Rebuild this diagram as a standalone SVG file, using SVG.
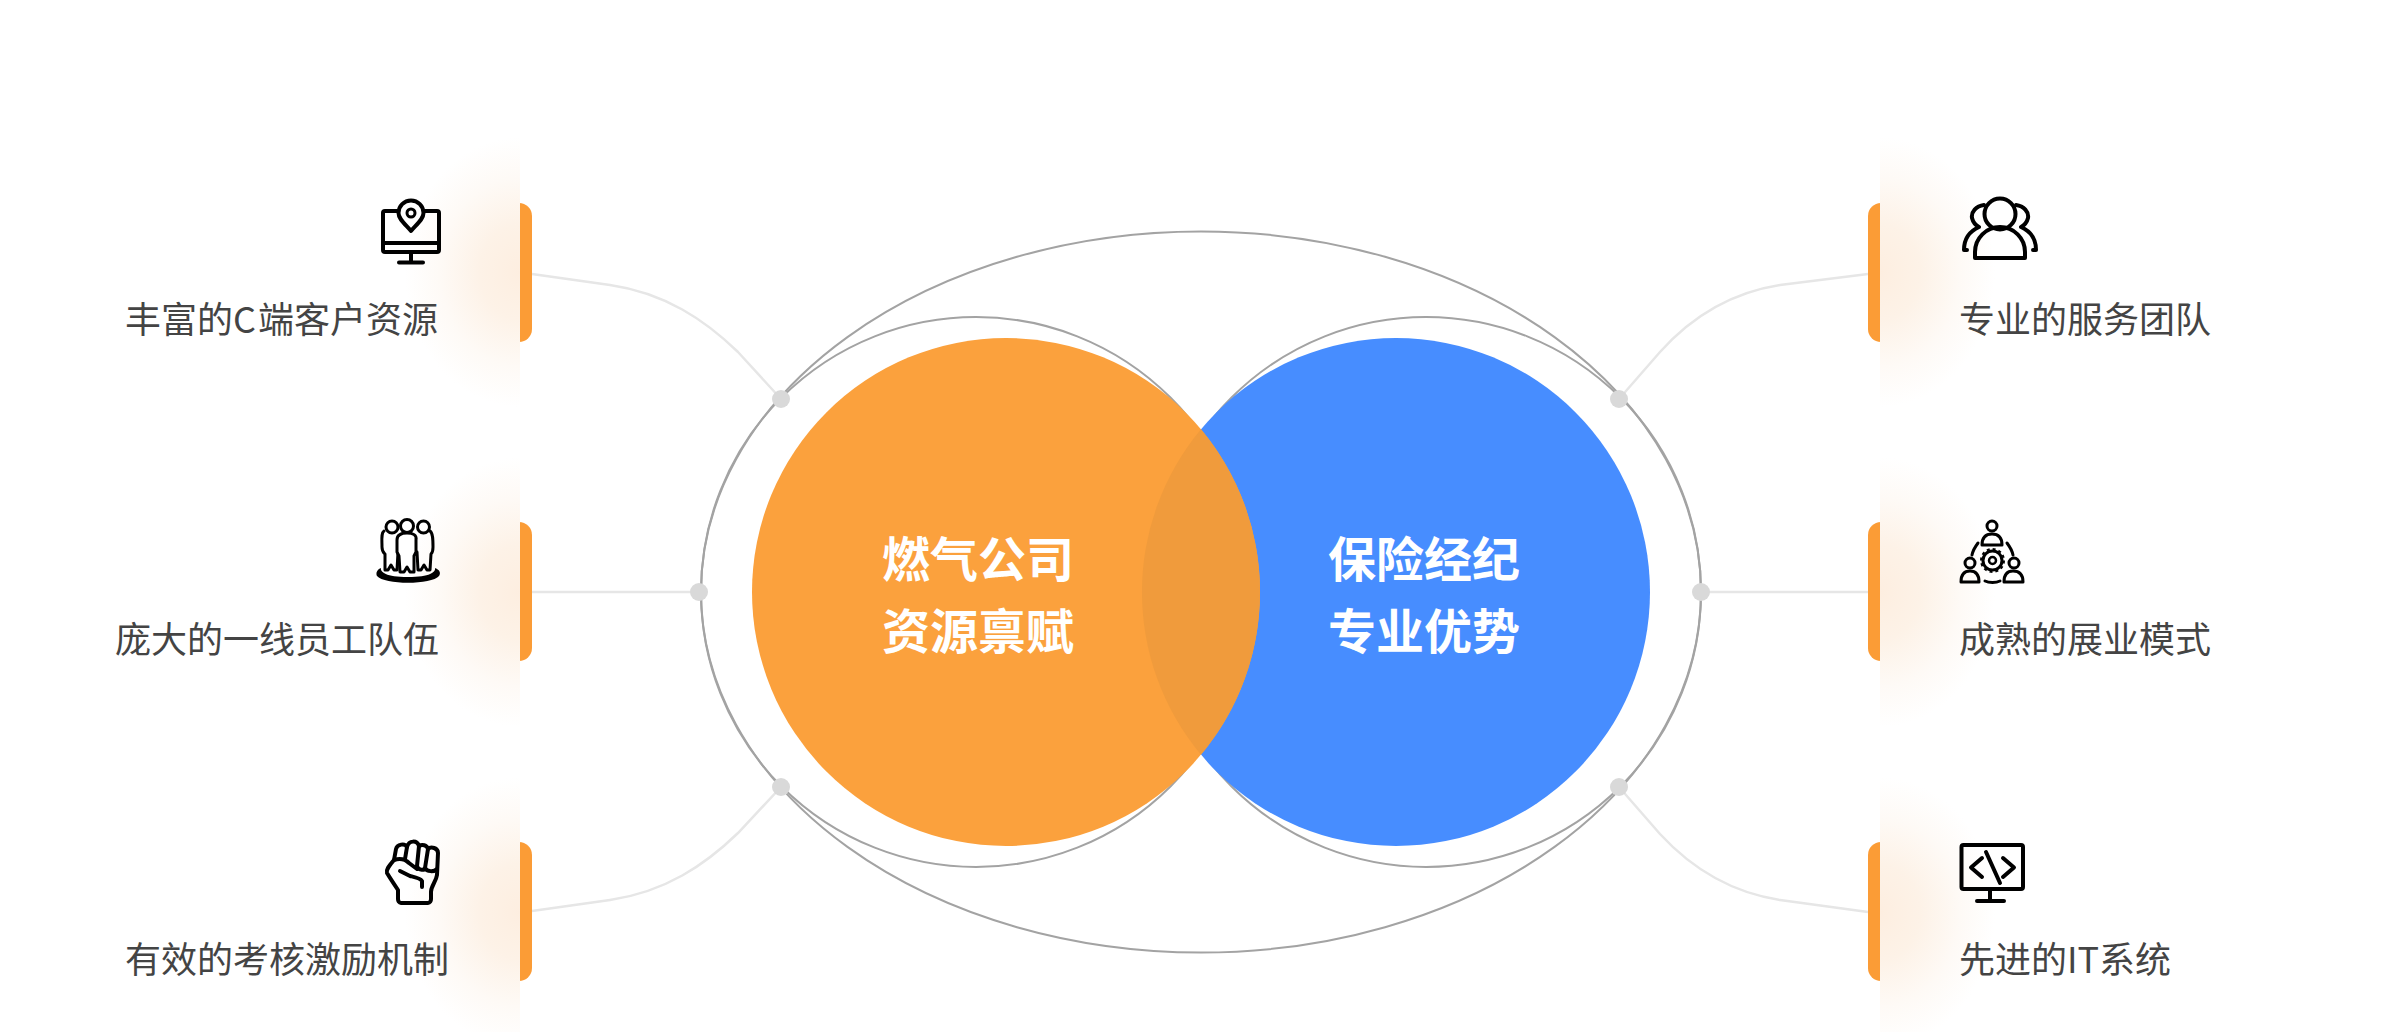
<svg xmlns="http://www.w3.org/2000/svg" width="2400" height="1032" viewBox="0 0 2400 1032">
<defs>
<radialGradient id="glowL" cx="1" cy="0.5" r="1" gradientTransform="translate(1 0.5) scale(1 0.5) translate(-1 -0.5)"><stop offset="0" stop-color="#fdeee0"/><stop offset="0.35" stop-color="#fdf2e7"/><stop offset="0.7" stop-color="#fefaf6"/><stop offset="1" stop-color="#ffffff"/></radialGradient>
<radialGradient id="glowR" cx="0" cy="0.5" r="1" gradientTransform="translate(0 0.5) scale(1 0.5) translate(0 -0.5)"><stop offset="0" stop-color="#fdeee0"/><stop offset="0.35" stop-color="#fdf2e7"/><stop offset="0.7" stop-color="#fefaf6"/><stop offset="1" stop-color="#ffffff"/></radialGradient>
</defs>
<style>
.ring{fill:none;stroke:#a3a3a3;stroke-width:2}
.link{fill:none;stroke:#e6e6e6;stroke-width:2.500}
.dot{fill:#d9d9d9}
.bar{fill:#fb9c36}
.lbl{font-family:"Noto Sans CJK SC","Noto Sans",sans-serif;font-size:36px;fill:#444444}
.big{font-family:"Noto Sans CJK SC","Noto Sans",sans-serif;font-size:48px;font-weight:700;fill:#ffffff;text-anchor:middle}
.ic{fill:none;stroke:#000;stroke-width:4;stroke-linecap:round;stroke-linejoin:round}
.ic3{fill:none;stroke:#000;stroke-width:3;stroke-linecap:round;stroke-linejoin:round}
</style>
<rect width="2400" height="1032" fill="#ffffff"/>
<g id="rings">
<ellipse class="ring" cx="1201" cy="592" rx="500" ry="360.500"/>
<circle class="ring" cx="976" cy="592" r="275"/>
<circle class="ring" cx="1426" cy="592" r="275"/>
</g>
<g id="connectors">
<path class="link" d="M532 274L610 285C665 293 705 320 738 352L781 399"/>
<path class="link" d="M532 592L699 592"/>
<path class="link" d="M532 911L610 900C665 892 705 865 738 833L781 787"/>
<path class="link" d="M1868 274L1780 285C1735 292 1695 313 1660 352L1619 399"/>
<path class="link" d="M1868 592L1701 592"/>
<path class="link" d="M1868 912L1780 900C1735 893 1695 872 1660 834L1619 787"/>
</g>
<g id="venn">
<circle id="circle-blue" cx="1396" cy="592" r="254" fill="#478dff"/>
<circle id="circle-orange" cx="1006" cy="592" r="254" fill="#fba13d"/>
<path id="overlap" d="M1201 429.200A254 254 0 0 0 1201 754.800A254 254 0 0 0 1201 429.200Z" fill="#f09b3c"/>
<text class="big" x="978" y="577">燃气公司</text>
<text class="big" x="978" y="649">资源禀赋</text>
<text class="big" x="1424" y="577">保险经纪</text>
<text class="big" x="1424" y="649">专业优势</text>
</g>
<g id="dots">
<circle class="dot" cx="781" cy="399" r="9"/>
<circle class="dot" cx="699" cy="592" r="9"/>
<circle class="dot" cx="781" cy="787" r="9"/>
<circle class="dot" cx="1619" cy="399" r="9"/>
<circle class="dot" cx="1701" cy="592" r="9"/>
<circle class="dot" cx="1619" cy="787" r="9"/>
</g>
<g id="node-l1">
<rect class="bar" x="500" y="203" width="32" height="139" rx="13"/>
<rect x="405" y="137" width="115" height="270" fill="url(#glowL)"/>
<rect class="ic" x="383" y="211" width="56" height="41" rx="2"/>
<path class="ic" d="M383 243H439M411 252V262M399 262.500H423"/>
<path d="M411 231C405 224 398.500 219 398.500 213A12.500 12.500 0 0 1 423.500 213C423.500 219 417 224 411 231Z" fill="#fff" stroke="#000" stroke-width="4" stroke-linejoin="round"/>
<circle class="ic3" cx="411" cy="213" r="4"/>
<text class="lbl" x="125" y="333">丰富的C<tspan x="258">端客户资源</tspan></text>
</g>
<g id="node-l2">
<rect class="bar" x="500" y="522" width="32" height="139" rx="13"/>
<rect x="405" y="457" width="115" height="270" fill="url(#glowL)"/>
<path class="ic3" d="M384 531C381 533 382 540 382 547C382 552 384 553 385 554L385 570L388 570L391 565L394 570L397 570L398 552"/>
<path class="ic3" d="M430 531C433 533 433 540 433 547C433 552 432 553 431 554L430 570L427 570L424 565L421 570L418 570L417 552"/>
<circle class="ic3" cx="392" cy="527" r="6" fill="#fff"/>
<circle class="ic3" cx="423.500" cy="527" r="6" fill="#fff"/>
<path d="M397 540C397 535 401 533 407 533C413 533 417 535 416 540L416 552L414 556L414 572L410 572L407 567L404 572L400 572L399 556L397 552Z" fill="#fff" stroke="#000" stroke-width="3" stroke-linejoin="round"/>
<circle cx="407" cy="526" r="6.500" fill="#fff" stroke="#000" stroke-width="3"/>
<path d="M381 568C376 570 376 574 377 576C384 585 432 585 439 576C441 573 440 570 435 568C436 572 430 577 408 577C386 577 380 572 381 568Z" fill="#000"/>
<text class="lbl" x="115" y="653">庞大的一线员工队伍</text>
</g>
<g id="node-l3">
<rect class="bar" x="500" y="842" width="32" height="139" rx="13"/>
<rect x="405" y="777" width="115" height="270" fill="url(#glowL)"/>
<path class="ic" d="M394 860L396 849C397 844 405 843 407 847C409 840 417 840 419 846C422 844 427 845 428 849C431 846 438 848 438 853L437 875C436 882 431 886 431 892V899C431 901 430 903 428 903H401C399 903 398 901 398 899V890C394 884 390 878 387 873C386 870 388 867 394 860Z"/>
<path class="ic" d="M407 847L405 859M419 846L417 866M428 849L425 868M394 860C400 858 405 859 409 863L417 869M400 871L410 876C414 877 420 878 422 881V887M417 866C418 870 424 871 425 868C427 872 434 872 437 869"/>
<text class="lbl" x="125" y="973">有效的考核激励机制</text>
</g>
<g id="node-r1">
<rect class="bar" x="1868" y="203" width="32" height="139" rx="13"/>
<rect x="1880" y="137" width="115" height="270" fill="url(#glowR)"/>
<circle class="ic" cx="2000" cy="214" r="15.500"/>
<path class="ic" d="M1975 258V252A25 25 0 0 1 2025 252V258Z"/>
<path class="ic" d="M1984 205C1976 206 1971 212 1972 218C1973 222 1975 225 1979 227C1970 231 1964 239 1964 250H1967M2016 205C2024 206 2029 212 2028 218C2027 222 2025 225 2021 227C2030 231 2036 239 2036 250H2033"/>
<text class="lbl" x="1959" y="333">专业的服务团队</text>
</g>
<g id="node-r2">
<rect class="bar" x="1868" y="522" width="32" height="139" rx="13"/>
<rect x="1880" y="457" width="115" height="270" fill="url(#glowR)"/>
<circle class="ic3" cx="1992" cy="526" r="5"/>
<path class="ic3" d="M1982 545C1982 537 1986 534 1992 534C1998 534 2002 537 2002 545Z"/>
<circle class="ic3" cx="1970" cy="563" r="5"/>
<path class="ic3" d="M1961 582C1961 574 1965 571 1970 571C1975 571 1979 574 1979 582Z"/>
<circle class="ic3" cx="2014" cy="563" r="5"/>
<path class="ic3" d="M2004 582C2004 574 2008 571 2013 571C2019 571 2023 574 2023 582Z"/>
<circle cx="1992.500" cy="560.500" r="9.500" fill="none" stroke="#000" stroke-width="3"/>
<circle cx="1992.500" cy="560.500" r="11.500" fill="none" stroke="#000" stroke-width="2" stroke-dasharray="3 3"/>
<circle cx="1992.500" cy="560.500" r="3.500" fill="none" stroke="#000" stroke-width="2.500"/>
<path class="ic3" d="M1972 555C1973 550 1975 547 1978 543M2007 543C2010 547 2012 550 2013 555M1985 581C1989 583 1996 583 2000 581"/>
<text class="lbl" x="1959" y="653">成熟的展业模式</text>
</g>
<g id="node-r3">
<rect class="bar" x="1868" y="842" width="32" height="139" rx="13"/>
<rect x="1880" y="777" width="115" height="270" fill="url(#glowR)"/>
<rect class="ic" x="1961.500" y="845" width="61.500" height="44" rx="2"/>
<path class="ic" d="M1990 889V901M1977 901H2004M1982 858L1971 867.500L1982 877M2003 858L2014 867.500L2003 877M1986 852L2000 883"/>
<text class="lbl" x="1959" y="973">先进的IT系统</text>
</g>
</svg>
